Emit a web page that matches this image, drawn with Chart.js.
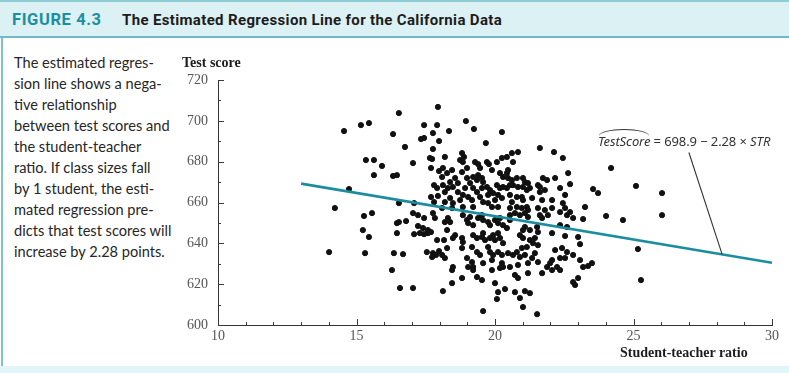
<!DOCTYPE html>
<html>
<head>
<meta charset="utf-8">
<script src="https://cdn.jsdelivr.net/npm/chart.js@4.4.0/dist/chart.umd.min.js"></script>
<style>
html, body { margin: 0; padding: 0; background: #fff; }
#wrap { position: relative; width: 789px; height: 373px; overflow: hidden; background: #fff; }
#head { position: absolute; left: 0; top: 0; width: 789px; height: 38px; box-sizing: border-box;
        background: #dcf1f4; border-top: 2px solid #8fcdd6; border-bottom: 2px solid #6dbbc7; }
#fig { position: absolute; left: 12px; top: 8px; font: bold 16.5px Roboto, sans-serif; color: #1b8fa1; letter-spacing: 0.6px; }
#ttl { position: absolute; left: 122px; top: 9px; font: bold 15px Roboto, sans-serif; color: #1c1c1c; letter-spacing: 0.35px; }
#leftbar { position: absolute; left: 1px; top: 38px; width: 2px; height: 330px; background: #7cc3ce; }
#foot { position: absolute; left: 0; top: 366px; width: 789px; height: 7px; background: #e2f6f9; }
#note { position: absolute; left: 14px; top: 52px; width: 176px; font: 14.6px Lato, sans-serif; line-height: 21px; color: #262626; }
#ytitle { position: absolute; left: 182px; top: 55px; font: bold 14px "Liberation Serif", serif; color: #1c1c1c; }
#xtitle { position: absolute; left: 620px; top: 345px; font: bold 14px "Liberation Serif", serif; color: #1c1c1c; }
#eq { position: absolute; left: 598px; top: 132px; font: 13px "Noto Sans", sans-serif; color: #333; white-space: nowrap; letter-spacing: -0.1px; }
#eq i { font-style: italic; }
.hat { position: relative; font-style: italic; }
.hat::before { content: ''; position: absolute; left: 1px; right: 1px; top: -3px; height: 6px;
               border-top: 1.4px solid #333; border-radius: 50% / 100% 100% 0 0; }
canvas { position: absolute; left: 0; top: 0; }
</style>
</head>
<body>
<div id="wrap">
  <div id="head"><span id="fig">FIGURE 4.3</span><span id="ttl">The Estimated Regression Line for the California Data</span></div>
  <div id="leftbar"></div>
  <div id="foot"></div>
  <div id="note">The estimated regres-<br>sion line shows a nega-<br>tive relationship<br>between test scores and<br>the student-teacher<br>ratio. If class sizes fall<br>by 1 student, the esti-<br>mated regression pre-<br>dicts that test scores will<br>increase by 2.28 points.</div>
  <canvas id="chart" width="789" height="373"></canvas>
  <div id="ytitle">Test score</div>
  <div id="xtitle">Student-teacher ratio</div>
  <div id="eq"><span class="hat">TestScore</span> = 698.9 − 2.28 × <i>STR</i></div>
</div>
<script>
// student-teacher ratio, test score
const districts = [
  [16.53,703.8],[17.94,706.8],[14.55,695.0],[15.16,697.9],[15.45,698.9],[16.32,693.5],[17.44,697.9],[17.91,697.9],
  [17.76,694.0],[17.33,691.1],[17.44,691.6],[17.98,690.1],[16.75,687.2],[17.76,686.2],[15.34,680.8],[15.63,680.8],
  [15.92,677.9],[17.04,679.3],[17.65,681.8],[17.73,681.3],[17.69,676.9],[17.98,675.4],[15.63,673.4],[16.32,673.0],
  [16.46,673.4],[17.80,668.5],[17.91,667.1],[14.73,666.6],[17.69,662.7],[17.94,663.2],[16.53,659.7],[17.08,659.7],
  [14.22,657.3],[17.80,660.2],[15.27,653.4],[15.56,654.8],[15.23,646.5],[15.45,643.1],[14.01,635.7],[15.31,635.2],
  [16.46,649.9],[16.53,650.4],[16.79,650.9],[16.46,645.0],[17.04,654.8],[17.22,653.8],[17.44,652.4],[17.76,654.8],
  [17.83,652.4],[17.22,648.5],[17.40,647.5],[17.58,646.5],[17.08,644.5],[17.29,645.0],[17.44,644.5],[17.58,645.0],
  [17.69,645.5],[17.91,641.6],[16.35,635.2],[16.68,634.7],[17.54,635.7],[17.76,635.2],[17.73,633.3],[17.87,634.3],
  [17.98,636.2],[16.28,626.9],[16.57,618.1],[17.04,618.1],
  [18.95,699.9],[18.34,695.0],[19.24,696.0],[20.25,694.5],[19.67,689.1],
  [18.81,684.2],[18.88,682.3],[18.19,682.3],[18.74,680.8],[18.84,679.8],[19.28,679.8],[19.39,678.8],[19.71,679.8],
  [19.78,678.8],[20.07,679.8],[20.25,681.8],[18.99,676.9],[18.81,674.9],[18.45,675.9],[18.12,676.9],[18.27,674.4],
  [18.09,672.5],[19.46,676.9],[19.89,675.9],[20.18,674.4],[20.29,672.5],[19.21,672.5],[19.39,673.4],[19.53,672.0],
  [19.35,671.0],[19.57,670.0],[18.56,672.0],[18.38,670.0],[18.66,669.5],[18.99,672.0],[19.10,669.5],[18.92,667.1],
  [18.12,668.5],[18.30,667.1],[18.48,667.6],[18.19,665.1],[19.21,667.1],[19.35,665.1],[19.53,667.1],[19.71,667.6],
  [19.82,666.1],[19.93,664.6],[19.75,663.7],[20.07,668.5],[20.18,667.1],[20.29,667.6],[20.11,663.7],[20.25,662.2],
  [20.00,661.2],[18.66,665.1],[18.84,663.7],[18.74,661.2],[19.03,662.7],[19.17,661.2],[19.46,662.7],[19.57,660.2],
  [18.38,662.2],[18.19,660.2],[18.48,659.7],[18.45,657.3],[19.89,657.8],[20.11,657.8],[18.84,657.8],[19.21,657.8],
  [19.75,659.7],
  [21.62,686.7],[22.13,684.7],[20.83,684.7],[20.61,684.2],[20.43,682.3],[20.65,679.8],[22.45,681.8],[20.47,675.9],
  [20.43,674.4],[20.47,672.0],[20.61,671.0],[20.79,672.0],[21.01,672.0],[21.08,670.0],[21.01,667.6],[21.19,669.5],
  [21.26,667.1],[21.15,666.1],[20.83,667.6],[20.65,668.5],[20.54,668.5],[20.43,667.1],[21.73,672.0],[21.88,671.0],
  [22.17,672.0],[21.55,668.5],[21.62,667.6],[21.80,666.1],[22.35,667.1],[20.54,663.7],[20.79,662.7],[20.97,662.7],
  [21.01,661.2],[21.34,662.2],[21.70,661.2],[21.62,665.1],[22.06,661.2],[22.45,659.7],[22.64,674.4],[22.53,663.7],
  [20.61,660.2],
  [18.09,657.3],[18.30,652.4],[18.19,650.4],[18.38,650.4],[18.84,653.8],[18.99,651.4],[19.10,652.9],[19.03,649.9],
  [19.21,648.9],[19.39,652.4],[19.53,653.8],[19.57,651.4],[19.75,650.4],[19.82,648.9],[20.00,651.4],[20.18,652.4],
  [20.11,649.9],[20.29,648.9],[18.56,644.0],[18.48,642.6],[18.81,642.6],[18.84,640.6],[19.21,644.0],[19.35,642.6],
  [19.53,643.1],[19.64,641.6],[19.57,645.0],[19.82,642.6],[19.93,644.0],[20.00,641.6],[20.11,645.0],[20.18,642.6],
  [20.29,640.1],[18.27,637.7],[18.81,637.7],[19.17,638.2],[19.35,635.7],[19.46,634.3],[19.75,638.2],[19.82,635.7],
  [19.93,634.3],[20.11,635.7],[20.25,634.3],[18.09,634.3],[18.19,632.8],[18.99,632.8],[19.17,630.8],[19.21,628.4],
  [19.03,628.4],[19.57,630.3],[19.89,631.8],[20.25,630.3],[20.29,628.4],[20.18,627.9],[18.48,628.4],[18.27,646.5],
  [18.16,641.6],
  [20.54,657.3],[20.79,657.8],[20.97,657.3],[21.15,657.8],[21.19,656.3],[21.55,657.3],[21.80,656.3],[22.06,657.3],
  [22.35,655.3],[22.53,657.3],[20.54,653.8],[20.72,654.8],[20.90,653.8],[21.08,654.8],[21.19,652.9],[21.62,653.8],
  [21.70,652.4],[21.91,653.8],[22.60,653.8],[20.54,651.4],[21.08,648.0],[21.26,646.5],[21.52,648.0],[21.55,645.5],
  [21.01,646.5],[20.43,647.5],[22.06,645.0],[22.35,648.9],[22.60,648.0],[20.90,644.0],[21.01,642.6],[21.26,641.6],
  [21.44,642.6],[21.37,640.1],[21.55,639.1],[21.15,638.2],[20.97,637.7],[20.47,635.2],[20.65,634.3],[20.79,635.7],
  [20.90,633.3],[21.08,634.3],[21.44,635.2],[21.34,632.8],[21.55,630.8],[22.17,636.7],[22.42,637.7],[22.60,635.7],
  [22.06,631.8],[22.35,632.8],[22.53,632.8],[21.99,630.3],[20.83,629.4],[21.19,630.3],[20.54,628.4],[21.88,628.4],
  [22.24,628.4],[22.53,643.6],
  [18.45,626.9],[19.21,626.9],[19.89,626.9],[20.72,624.5],[20.83,623.0],[21.19,625.4],[21.70,625.4],[22.06,626.9],
  [22.35,626.9],[18.45,620.5],[18.81,623.0],[19.35,623.5],[19.53,622.0],[20.00,620.5],[18.12,616.6],[20.11,616.1],
  [20.36,617.6],[20.72,616.1],[21.08,616.6],[21.26,615.6],[20.07,612.7],[20.90,613.2],[21.01,608.8],[19.57,606.8],
  [21.52,605.3],
  [24.19,676.9],[22.71,669.0],[23.54,666.6],[23.72,664.6],[25.09,668.1],[26.03,664.6],[26.03,653.8],[24.01,653.4],
  [24.62,651.4],[23.25,657.8],[22.71,655.3],[22.82,652.4],[23.18,651.9],[23.00,643.1],[23.07,639.6],[22.82,634.3],
  [23.07,631.8],[23.18,628.4],[23.36,628.9],[23.50,630.3],[25.16,637.2],[22.82,621.0],[22.89,619.6],[23.00,623.0],
  [25.27,622.0]
];

// estimated regression line
const intercept = 698.9;
const slope = -2.28;
const lineRange = [13, 30];

// axis ticks
const xTicks = [10, 15, 20, 25, 30];
const yTicks = [600, 620, 640, 660, 680, 700, 720];

// leader from the equation label down to the line
const leaderTop = [27.0, 684.5];
const leaderBottomX = 28.2;

const inwardTicks = {
  id: 'inwardTicks',
  afterDraw(chart) {
    const ctx = chart.ctx;
    const x = chart.scales.x, y = chart.scales.y;
    ctx.save();
    ctx.strokeStyle = '#3a3a3a';
    ctx.lineWidth = 1;
    ctx.beginPath();
    for (let v = 10; v <= 30; v++) {
      const px = Math.round(x.getPixelForValue(v)) + 0.5;
      const len = v % 5 === 0 ? 6 : 3;
      ctx.moveTo(px, y.bottom);
      ctx.lineTo(px, y.bottom - len);
    }
    for (let v = 600; v <= 720; v += 10) {
      const py = Math.round(y.getPixelForValue(v)) + 0.5;
      const len = v % 20 === 0 ? 6 : 3;
      ctx.moveTo(x.left, py);
      ctx.lineTo(x.left + len, py);
    }
    ctx.stroke();

    // leader line
    const bx = leaderBottomX, by = intercept + slope * bx;
    ctx.strokeStyle = '#333';
    ctx.lineWidth = 1.1;
    ctx.beginPath();
    ctx.moveTo(x.getPixelForValue(leaderTop[0]), y.getPixelForValue(leaderTop[1]));
    ctx.lineTo(x.getPixelForValue(bx), y.getPixelForValue(by));
    ctx.stroke();
    ctx.restore();
  }
};

Chart.defaults.font.family = '"Liberation Serif", serif';

new Chart(document.getElementById('chart'), {
  type: 'scatter',
  data: {
    datasets: [
      {
        label: 'Districts',
        data: districts.map(d => ({ x: d[0], y: d[1] })),
        backgroundColor: '#111',
        borderColor: '#111',
        pointRadius: 2.6,
        pointHoverRadius: 2.6,
        order: 2
      },
      {
        type: 'line',
        label: 'Regression',
        data: lineRange.map(v => ({ x: v, y: intercept + slope * v })),
        borderColor: '#1a8d9e',
        borderWidth: 2.6,
        pointRadius: 0,
        fill: false,
        order: 1
      }
    ]
  },
  options: {
    responsive: false,
    animation: false,
    devicePixelRatio: 1,
    layout: { padding: { left: 178, right: 17, top: 80, bottom: 28 } },
    plugins: { legend: { display: false }, tooltip: { enabled: false } },
    scales: {
      x: {
        type: 'linear',
        min: 10,
        max: 30,
        afterBuildTicks: s => { s.ticks = xTicks.map(v => ({ value: v })); },
        afterFit: s => { s.height = 20; },
        ticks: { color: '#555', font: { size: 14 }, padding: 3 },
        grid: { display: false, drawTicks: false },
        border: { color: '#333', width: 1 }
      },
      y: {
        type: 'linear',
        min: 600,
        max: 720,
        afterBuildTicks: s => { s.ticks = yTicks.map(v => ({ value: v })); },
        afterFit: s => { s.width = 40; },
        ticks: { color: '#555', font: { size: 14 }, padding: 10 },
        grid: { display: false, drawTicks: false },
        border: { color: '#333', width: 1 }
      }
    }
  },
  plugins: [inwardTicks]
});
</script>
</body>
</html>
